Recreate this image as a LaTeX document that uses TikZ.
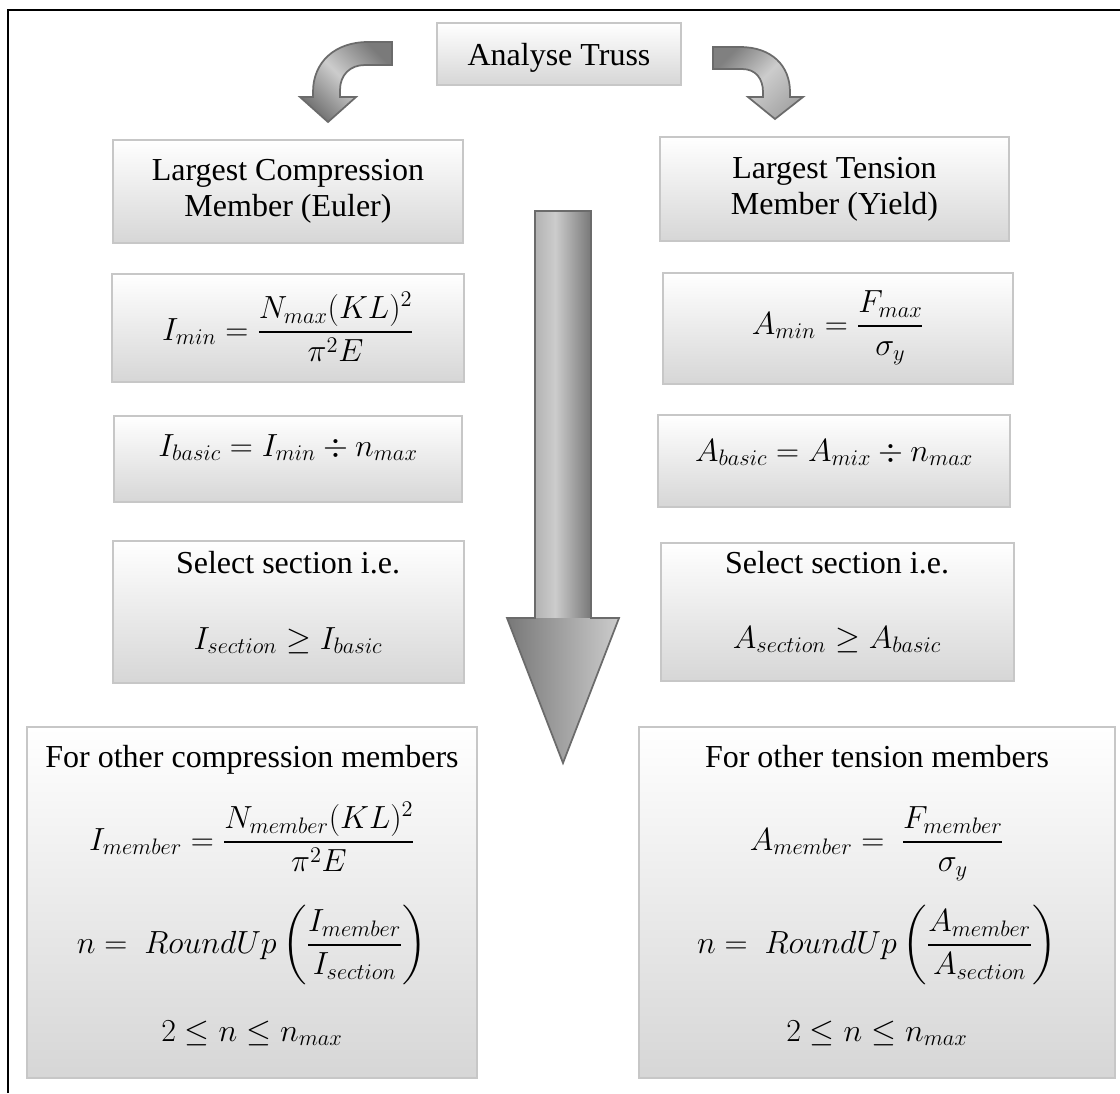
\RequirePackage{fix-cm}
\documentclass[tikz,border=0pt]{standalone}
\usepackage{amsmath}
\usepackage{fontspec}
\setmainfont{Liberation Serif}
\usetikzlibrary{fit,calc}
\pgfdeclarehorizontalshading{shaftshade}{100bp}{color(0bp)=(black!30); color(25bp)=(black!30); color(43bp)=(black!20); color(75bp)=(black!53); color(100bp)=(black!53)}
\pgfdeclarehorizontalshading{curvl}{100bp}{color(0bp)=(black!55); color(25bp)=(black!55); color(50bp)=(black!20); color(75bp)=(black!52); color(100bp)=(black!52)}
\pgfdeclarehorizontalshading{curvr}{100bp}{color(0bp)=(black!50); color(25bp)=(black!50); color(50bp)=(black!20); color(75bp)=(black!35); color(100bp)=(black!35)}
\begin{document}
\begin{tikzpicture}[x=0.75pt,y=-0.75pt,
  box/.style={draw=black!22, line width=1.5pt, top color=white, bottom color=black!16, inner sep=0pt},
  txt/.style={font=\fontsize{24}{27}\selectfont, align=center, inner sep=0pt},
  bt/.style={txt, anchor=base},
  arr/.style={draw=black!58, line width=1.3pt, line join=miter}
]
\useasboundingbox (0,0) rectangle (1120,1093);
\fill[white] (0,0) rectangle (1120,1093);
\draw[line width=1.2pt] (8,1093) -- (8,10) -- (1120,10);

% top box
\node[box, fit={(437,23)(681,85)}] (at) {};
\node[bt] (att) at (559,65) {Analyse Truss};

% curved arrows
\shadedraw[arr, shading=curvl, shading angle=45] (392,42) -- (368,42) .. controls (335,42) and (313,62) .. (313,92) -- (313,97) -- (300,97) -- (328,122) -- (356,97) -- (340,97) -- (340,90) .. controls (340,75) and (350,65) .. (365,65) -- (392,65) -- cycle;
\shadedraw[arr, shading=curvr, shading angle=-45] (713,47) -- (740,47) .. controls (772,47) and (790,66) .. (790,92) -- (790,97) -- (803,97) -- (775,119) -- (748,97) -- (763,97) -- (763,92) .. controls (763,79) and (756,69) .. (742,69) -- (713,69) -- cycle;

% big arrow
\shade[shading=shaftshade] (535,211) rectangle (591,618);
\shade[left color=black!53, right color=black!20] (507,618) -- (619,618) -- (563,763) -- cycle;
\draw[arr] (535,211) -- (591,211) -- (591,618) -- (619,618) -- (563,763) -- (507,618) -- (535,618) -- cycle;

% left column
\node[box, fit={(113,140)(463,243)}] (lc) {};
\node[txt] (lct) at (lc) {Largest Compression\\Member (Euler)};
\node[box, fit={(112,274)(464,382)}] (imin) {};
\node[bt] (imint) at (288,340) {$\displaystyle I_{min}=\frac{N_{max}(KL)^2}{\pi^2E}$};
\node[box, fit={(114,416)(462,502)}] (ib) {};
\node[bt] (ibt) at (288,456) {$I_{basic}=I_{min}\div n_{max}$};
\node[box, fit={(113,541)(464,683)}] (sl) {};
\node[bt] (slt1) at (288,573) {Select section i.e.};
\node[bt] (slt2) at (288,649) {$I_{section}\ge I_{basic}$};

% right column
\node[box, fit={(660,137)(1009,241)}] (lt) {};
\node[txt] (ltt) at (lt) {Largest Tension\\Member (Yield)};
\node[box, fit={(663,273)(1013,384)}] (amin) {};
\node[bt] (amint) at (838,334) {$\displaystyle A_{min}=\frac{F_{max}}{\sigma_y}$};
\node[box, fit={(658,415)(1010,507)}] (ab) {};
\node[bt] (abt) at (834,461) {$A_{basic}=A_{mix}\div n_{max}$};
\node[box, fit={(661,543)(1014,681)}] (sr) {};
\node[bt] (srt1) at (837,573) {Select section i.e.};
\node[bt] (srt2) at (837,648) {$A_{section}\ge A_{basic}$};

% bottom boxes
\node[box, fit={(27,727)(477,1078)}] (bl) {};
\node[bt] (blt1) at (252,767) {For other compression members};
\node[bt] (blt2) at (252,850) {$\displaystyle I_{member}=\frac{N_{member}(KL)^2}{\pi^2E}$};
\node[bt] (blt3) at (252,953) {$\displaystyle n=\ RoundUp\left(\frac{I_{member}}{I_{section}}\right)$};
\node[bt] (blt4) at (252,1041) {$2\le n\le n_{max}$};

\node[box, fit={(639,727)(1115,1078)}] (br) {};
\node[bt] (brt1) at (877,767) {For other tension members};
\node[bt] (brt2) at (877,850) {$\displaystyle A_{member}=\ \frac{F_{member}}{\sigma_y}$};
\node[bt] (brt3) at (877,953) {$\displaystyle n=\ RoundUp\left(\frac{A_{member}}{A_{section}}\right)$};
\node[bt] (brt4) at (877,1041) {$2\le n\le n_{max}$};
\end{tikzpicture}
\end{document}
